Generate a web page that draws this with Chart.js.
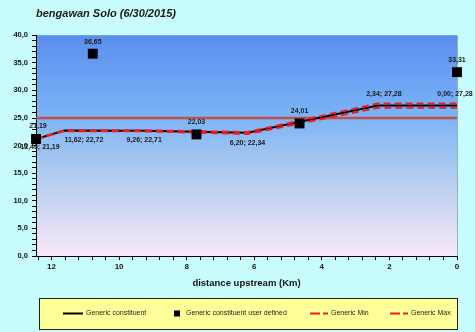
<!DOCTYPE html>
<html>
<head>
<meta charset="utf-8">
<script src="https://cdn.jsdelivr.net/npm/chart.js@4/dist/chart.umd.min.js"></script>
<style>
  html, body { margin: 0; padding: 0; background: #c9fdfd; }
  #wrap { width: 475px; height: 332px; }
</style>
</head>
<body>
<div id="wrap"><canvas id="c" width="475" height="332"></canvas></div>
<script>
// ---- data ----
const chartTitle = 'bengawan Solo (6/30/2015)';
const xAxisTitle = 'distance upstream (Km)';
const seriesNames = ['Generic constituent', 'Generic constituent user defined', 'Generic Min', 'Generic Max'];

// simulated profile (km upstream, value)
const profileKm  = [12.46, 11.62, 9.26, 6.20, 2.34, 0.00];
const profileVal = [21.19, 22.72, 22.71, 22.34, 27.28, 27.28];
const minVal     = [21.19, 22.62, 22.58, 22.10, 26.85, 26.85];
const maxVal     = [21.19, 22.78, 22.78, 22.46, 27.64, 27.64];

// user defined observations
const obsKm  = [12.46, 10.78, 7.71, 4.66, 0.00];
const obsVal = [21.19, 36.65, 22.03, 24.01, 33.31];

// standard line
const refKm  = [12.46, 0.00];
const refVal = [25.0, 25.0];

// axis ranges / ticks
const xMin = 0, xMax = 12.46, xTickStep = 0.4, xLabelEvery = 2;
const yMin = 0, yMax = 40, yTickStep = 1, yLabelEvery = 5;

// ---- helpers ----
const NARROW = '"Liberation Sans Narrow", "Liberation Sans", Arial, sans-serif';
const SANS = '"Liberation Sans", Arial, sans-serif';
const fmt = v => v.toFixed(2).replace('.', ',');
const pts = (xs, ys) => xs.map((x, i) => ({ x: x, y: ys[i] }));

// background: cyan page, gradient plot area, thin right frame
const backdrop = {
  id: 'backdrop',
  beforeDraw(chart) {
    const { ctx, chartArea: a, width, height } = chart;
    ctx.save();
    ctx.fillStyle = '#c9fdfd';
    ctx.fillRect(0, 0, width, height);
    const g = ctx.createLinearGradient(0, a.top, 0, a.bottom);
    g.addColorStop(0, '#5a8eef');
    g.addColorStop(0.35, '#79b2f6');
    g.addColorStop(0.6, '#a9c9f0');
    g.addColorStop(0.82, '#d6daf2');
    g.addColorStop(1, '#f8e8f8');
    ctx.fillStyle = g;
    ctx.fillRect(a.left, a.top, a.right - a.left, a.bottom - a.top);
    ctx.strokeStyle = '#8fb3b3';
    ctx.lineWidth = 1;
    ctx.beginPath();
    ctx.moveTo(a.right + 0.5, a.top);
    ctx.lineTo(a.right + 0.5, a.bottom);
    ctx.stroke();
    ctx.restore();
  }
};

// value labels next to points
const pointLabels = {
  id: 'pointLabels',
  afterDatasetsDraw(chart, args, opts) {
    const ctx = chart.ctx;
    ctx.save();
    ctx.font = opts.font;
    ctx.fillStyle = opts.color;
    ctx.textBaseline = 'middle';
    opts.sets.forEach(set => {
      const meta = chart.getDatasetMeta(set.dataset);
      const ds = chart.data.datasets[set.dataset];
      meta.data.forEach((el, i) => {
        const p = ds.data[i];
        const [dx, dy, align] = set.place[i];
        ctx.textAlign = align;
        ctx.fillText(set.text(p.x, p.y), el.x + dx, el.y + dy);
      });
    });
    ctx.restore();
  }
};

// boxed legend under the axis title
const boxLegend = {
  id: 'boxLegend',
  afterDraw(chart, args, opts) {
    const ctx = chart.ctx;
    const b = opts.box;
    ctx.save();
    ctx.fillStyle = '#ffff99';
    ctx.fillRect(b.x, b.y, b.w, b.h);
    ctx.strokeStyle = '#222';
    ctx.lineWidth = 1;
    ctx.strokeRect(b.x + 0.5, b.y + 0.5, b.w, b.h);
    const cy = b.y + b.h / 2;
    ctx.font = opts.font;
    ctx.textBaseline = 'middle';
    ctx.textAlign = 'left';
    opts.items.forEach(it => {
      const ds = chart.data.datasets[it.dataset];
      ctx.strokeStyle = ds.borderColor;
      ctx.fillStyle = ds.borderColor;
      if (ds.showLine === false) {
        ctx.fillRect(it.x + it.w / 2 - 3, cy - 3, 6, 6);
      } else {
        ctx.lineWidth = 2;
        ctx.setLineDash(ds.borderDash ? [10, 3] : []);
        ctx.beginPath();
        ctx.moveTo(it.x, cy);
        ctx.lineTo(it.x + it.w, cy);
        ctx.stroke();
        ctx.setLineDash([]);
      }
      ctx.fillStyle = '#222';
      ctx.fillText(ds.label, it.x + it.w + 3, cy);
    });
    ctx.restore();
  }
};

new Chart(document.getElementById('c'), {
  type: 'line',
  data: {
    datasets: [
      { label: seriesNames[0], data: pts(profileKm, profileVal), borderColor: '#000000',
        borderWidth: 2, pointRadius: 0, order: 2 },
      { label: seriesNames[1], data: pts(obsKm, obsVal), showLine: false, pointStyle: 'rect',
        pointRadius: 7, backgroundColor: '#000000', borderColor: '#000000', borderWidth: 0,
        order: 0, clip: false },
      { label: seriesNames[2], data: pts(profileKm, minVal), borderColor: '#ee1c25',
        borderDash: [7, 4], borderWidth: 2, pointRadius: 0, order: 1 },
      { label: seriesNames[3], data: pts(profileKm, maxVal), borderColor: '#ee1c25',
        borderDash: [7, 4], borderWidth: 2, pointRadius: 0, order: 1 },
      { label: 'standard', data: pts(refKm, refVal), borderColor: '#c0504d',
        borderWidth: 2.5, pointRadius: 0, order: 3 }
    ]
  },
  options: {
    responsive: false,
    animation: false,
    devicePixelRatio: 1,
    layout: { padding: { left: 0, right: 18, top: 0, bottom: 0 } },
    elements: { line: { tension: 0 } },
    scales: {
      x: {
        type: 'linear', reverse: true, min: xMin, max: xMax,
        afterBuildTicks(scale) {
          const t = [];
          for (let i = 0; i * xTickStep <= xMax + 1e-9; i++) t.push({ value: i * 4 / 10 });
          scale.ticks = t;
        },
        afterFit(scale) { scale.height = 76; },
        ticks: {
          autoSkip: false, maxRotation: 0, padding: 2, color: '#111',
          font: { family: NARROW, size: 8, weight: 'bold' },
          callback: v => (Math.abs(v - Math.round(v)) < 1e-9 && Math.round(v) % xLabelEvery === 0) ? String(Math.round(v)) : ''
        },
        grid: { drawOnChartArea: false, tickLength: 4, color: '#000' },
        border: { color: '#000', width: 1 },
        title: {
          display: true, text: xAxisTitle, color: '#111',
          font: { family: SANS, size: 9.5, weight: 'bold' },
          padding: { top: 0, bottom: 43 }
        }
      },
      y: {
        min: yMin, max: yMax,
        afterFit(scale) { scale.width = 36; },
        ticks: {
          stepSize: yTickStep, autoSkip: false, padding: 4, color: '#111',
          font: { family: NARROW, size: 7.5, weight: 'bold' },
          callback: v => (v % yLabelEvery === 0) ? v.toFixed(1).replace('.', ',') : ''
        },
        grid: { drawOnChartArea: false, tickLength: 4, color: '#000' },
        border: { color: '#000', width: 1 }
      }
    },
    plugins: {
      legend: { display: false },
      tooltip: { enabled: false },
      title: {
        display: true, text: chartTitle, align: 'start', fullSize: false, color: '#1a1a1a',
        font: { family: SANS, size: 11, style: 'italic', weight: 'bold' },
        padding: { top: 7, bottom: 15 }
      },
      pointLabels: {
        font: 'bold 7px ' + NARROW,
        color: '#1a1a1a',
        sets: [
          { dataset: 0, text: (x, y) => fmt(x) + '; ' + fmt(y),
            place: [[4, 8, 'center'], [0, 9, 'left'], [0, 9, 'center'], [0, 10, 'center'], [6, -11, 'center'], [-2, -11, 'center']] },
          { dataset: 1, text: (x, y) => fmt(y),
            place: [[2, -13, 'center'], [0, -12, 'center'], [0, -12, 'center'], [0, -12, 'center'], [0, -12, 'center']] }
        ]
      },
      boxLegend: {
        font: '7px ' + NARROW,
        box: { x: 39, y: 298, w: 418, h: 31 },
        items: [
          { dataset: 0, x: 63, w: 20 },
          { dataset: 1, x: 171, w: 12 },
          { dataset: 2, x: 310, w: 18 },
          { dataset: 3, x: 390, w: 18 }
        ]
      }
    }
  },
  plugins: [backdrop, pointLabels, boxLegend]
});
</script>
</body>
</html>
